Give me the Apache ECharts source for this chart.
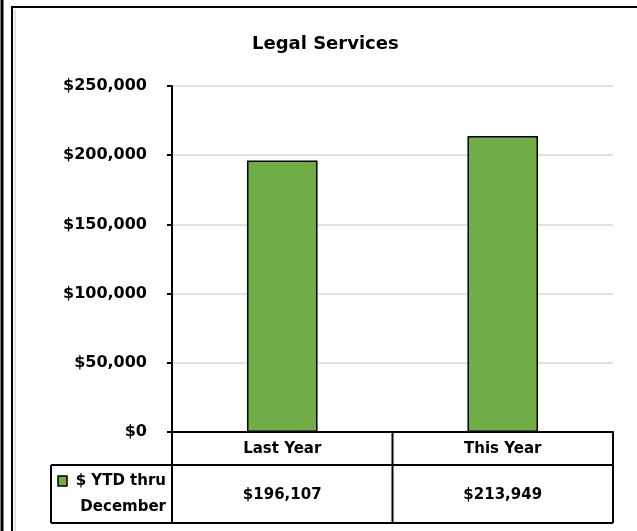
<!DOCTYPE html>
<html>
<head>
<meta charset="utf-8">
<script src="https://cdn.jsdelivr.net/npm/echarts@6/dist/echarts.min.js"></script>
<style>
html,body{margin:0;padding:0;background:#fff;}
#chart{width:637px;height:531px;}
</style>
</head>
<body>
<div id="chart"></div>
<script>
var titleText = 'Legal Services';
var categories = ['Last Year', 'This Year'];
var seriesName = ['$ YTD thru', 'December'];
var values = [196107, 213949];
var yMax = 250000;
var yInterval = 50000;

var FONT = '"DejaVu Sans"';
var GRID = {left: 172, right: 24, top: 86, bottom: 99};
var W = 637, H = 531;

function money(v){ return '$' + Number(v).toLocaleString('en-US'); }

var chart = echarts.init(document.getElementById('chart'), null, {renderer: 'canvas'});
chart.setOption({
  animation: false,
  backgroundColor: '#fff',
  title: {
    text: titleText, left: 252, top: 35, padding: 0,
    textStyle: {fontFamily: FONT, fontWeight: 'bold', fontSize: 18, color: '#000'}
  },
  grid: {left: GRID.left, right: GRID.right, top: GRID.top, bottom: GRID.bottom, containLabel: false},
  xAxis: {
    type: 'category', data: categories,
    axisLine: {show: true, lineStyle: {color: '#000', width: 2}},
    axisTick: {show: false},
    axisLabel: {margin: 10, fontFamily: FONT, fontWeight: 'bold', fontSize: 15, color: '#000'}
  },
  yAxis: {
    type: 'value', min: 0, max: yMax, interval: yInterval,
    axisLine: {show: true, lineStyle: {color: '#000', width: 2}},
    axisTick: {show: true, length: 5, lineStyle: {color: '#000', width: 2}},
    axisLabel: {margin: 25, fontFamily: FONT, fontWeight: 'bold', fontSize: 16, color: '#000', formatter: money},
    splitLine: {show: true, lineStyle: {color: '#d9d9d9', width: 1.5}}
  },
  series: [{
    type: 'bar', name: seriesName.join(' '), data: values, barWidth: '32%',
    itemStyle: {color: '#70AD47', borderColor: '#000', borderWidth: 1.5}
  }]
});

// data table drawn from axis positions
var left = GRID.left, right = W - GRID.right, axisY = H - GRID.bottom;
var band = (right - left) / categories.length;
var headBottom = 465, rowBottom = 523, tableLeft = 51;
var g = [];
var ls = {stroke: '#000', lineWidth: 2};
function line(x1,y1,x2,y2,st){ g.push({type:'line', shape:{x1:x1,y1:y1,x2:x2,y2:y2}, style: st || ls, z: 100}); }
// frame
line(2, 0, 2, H, {stroke:'#000', lineWidth:3});
line(12, 7, 12, H, ls);
line(11, 7, W, 7, ls);
line(15, 9, 15, H, {stroke:'#c8c8c8', lineWidth:1});
// table
line(left, axisY, left, rowBottom);
line(right, axisY, right, rowBottom);
line(tableLeft, headBottom, right, headBottom);
line(tableLeft, rowBottom, right, rowBottom);
line(tableLeft, headBottom, tableLeft, rowBottom);
for (var i = 0; i < categories.length; i++) {
  var cx = chart.convertToPixel({xAxisIndex: 0}, categories[i]);
  if (i > 0) line(cx - band/2, axisY, cx - band/2, rowBottom);
  g.push({type:'text', x: cx, y: (headBottom + rowBottom)/2 + 1, style:{text: money(values[i]), fontFamily: FONT, fontWeight:'bold', fontSize:15, fill:'#000', align:'center', verticalAlign:'middle'}, z: 100});
}
// legend key
g.push({type:'rect', shape:{x:58, y:476, width:9, height:10}, style:{fill:'#70AD47', stroke:'#000', lineWidth:1.5}, z:100});
g.push({type:'text', x: 166, y: 481, style:{text: seriesName[0], fontFamily: FONT, fontWeight:'bold', fontSize:15, fill:'#000', align:'right', verticalAlign:'middle'}, z:100});
g.push({type:'text', x: 166, y: 507, style:{text: seriesName[1], fontFamily: FONT, fontWeight:'bold', fontSize:15, fill:'#000', align:'right', verticalAlign:'middle'}, z:100});
chart.setOption({graphic: g});
</script>
</body>
</html>
